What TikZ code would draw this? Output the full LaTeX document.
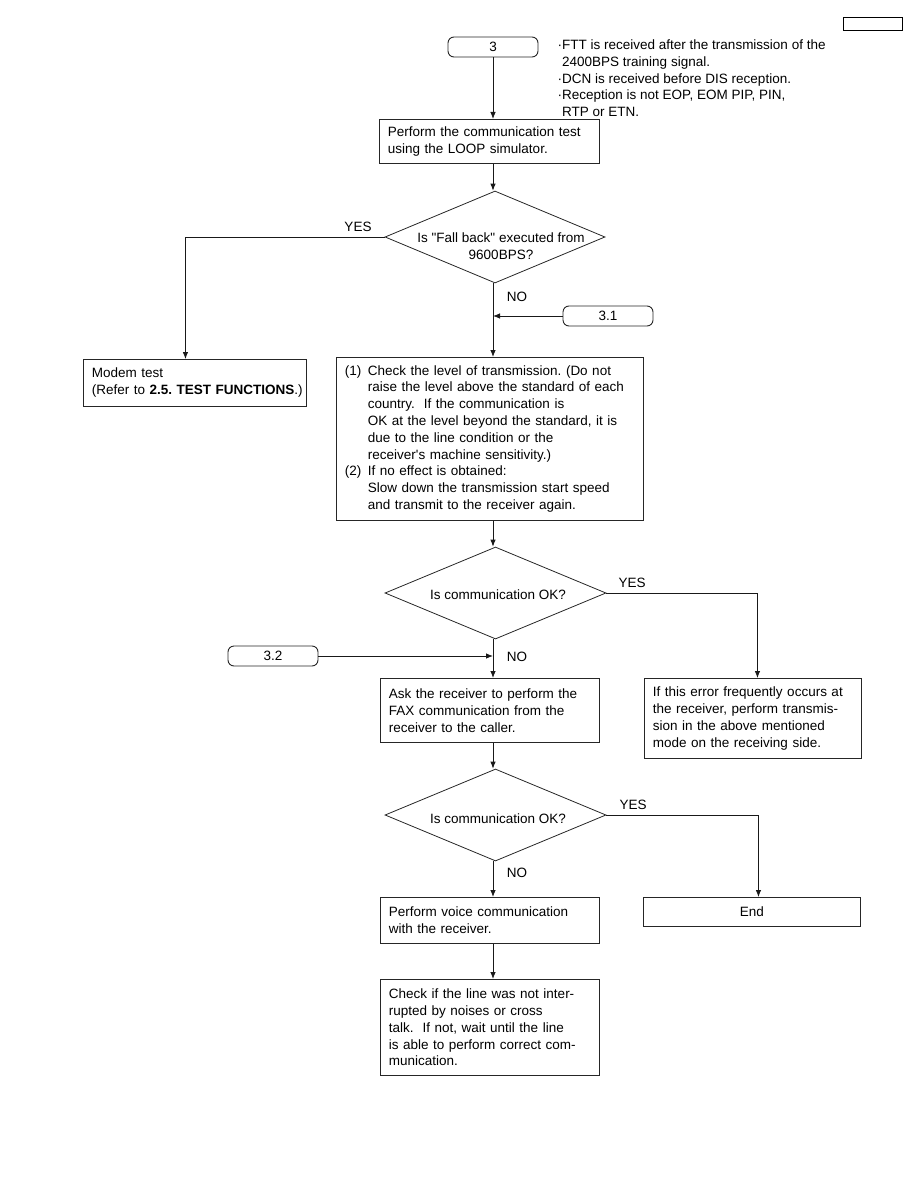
\documentclass[tikz,border=0pt]{standalone}
\usepackage{fontspec}
\setmainfont{Liberation Sans}[Ligatures=TeXOff]
\usetikzlibrary{shapes.geometric,arrows.meta}
\frenchspacing
\begin{document}
\begin{tikzpicture}[x=1pt,y=-1pt,
  every node/.style={font=\fontsize{13.5}{16.8}\selectfont\frenchspacing, text=black},
  box/.style={draw=black!85, line width=0.9pt, anchor=north west, inner xsep=8.5pt, inner ysep=0pt, align=left},
  term/.style={draw=black!85, line width=0.9pt, rounded corners=6pt, minimum width=90pt, minimum height=20pt, inner sep=0pt},
  dia/.style={draw=black!85, line width=0.8pt, shape=diamond, inner sep=0pt},
  lbl/.style={inner sep=0pt},
  arr/.style={draw=black!90, line width=0.8pt, -{Latex[length=7pt,width=5.5pt]}},
  ln/.style={draw=black!90, line width=0.8pt}
]
\useasboundingbox (0,0) rectangle (918,1188);

% header box (cut off)
\node[draw=black, line width=0.9pt, minimum width=59pt, minimum height=13pt, inner sep=0pt, anchor=north west] (hdr) at (843,17) {};

% start terminal
\node[term] (t3) at (493,47) {3};

% notes
\node[lbl, anchor=north west] (note) at (557.5,37.5) {%
\begin{tabular}{@{}p{4.5pt}@{}l@{}}
·&FTT is received after the transmission of the\\
 & 2400BPS training signal.\\
·&DCN is received before DIS reception.\\
·&Reception is not EOP, EOM PIP, PIN,\\
 & RTP or ETN.
\end{tabular}};

% box 1
\node[box, text width=203pt, minimum height=44pt] (b1) at (379,119)
 {Perform the communication test\\using the LOOP simulator.};

% diamond 1
\node[dia, minimum width=220pt, minimum height=92pt] (d1) at (495,237) {};
\node[lbl, align=center] (d1t) at (501,246) {Is "Fall back" executed from\\9600BPS?};

% modem
\node[box, text width=206pt, minimum height=47pt] (modem) at (83,359)
 {\begin{tabular}{@{}l@{}}Modem test\\(Refer to \textbf{2.5. TEST FUNCTIONS}.)\end{tabular}};

% 3.1 terminal
\node[term] (t31) at (608,316) {3.1};

% big box
\node[box, text width=290pt, minimum height=163pt] (big) at (336,357)
 {\begin{tabular}{@{}p{23pt}@{}l@{}}
 (1) & Check the level of transmission. (Do not\\
      & raise the level above the standard of each\\
      & country.\ \ If the communication is\\
      & OK at the level beyond the standard, it is\\
      & due to the line condition or the\\
      & receiver's machine sensitivity.)\\
 (2) & If no effect is obtained:\\
      & Slow down the transmission start speed\\
      & and transmit to the receiver again.
 \end{tabular}};

% diamond 2
\node[dia, minimum width=221pt, minimum height=92pt] (d2) at (495.5,593) {};
\node[lbl] (d2t) at (498,595) {Is communication OK?};

% 3.2 terminal
\node[term] (t32) at (273,656) {3.2};

% ask box
\node[box, text width=202pt, minimum height=64pt] (ask) at (380,678)
 {Ask the receiver to perform the\\FAX communication from the\\receiver to the caller.};

% error box
\node[box, text width=200pt, minimum height=80pt] (err) at (644,678)
 {If this error frequently occurs at\\the receiver, perform transmis-\\sion in the above mentioned\\mode on the receiving side.};

% diamond 3
\node[dia, minimum width=221pt, minimum height=92pt] (d3) at (495.5,815) {};
\node[lbl] (d3t) at (498,819) {Is communication OK?};

% end box
\node[draw=black!85, line width=0.9pt, anchor=north west, minimum width=217pt, minimum height=29pt, inner sep=0pt] (end) at (643,897) {End};

% voice box
\node[box, text width=202pt, minimum height=46pt] (voice) at (380,897)
 {Perform voice communication\\with the receiver.};

% last box
\node[box, text width=202pt, minimum height=96pt] (last) at (380,979)
 {Check if the line was not inter-\\rupted by noises or cross\\talk.\ \ If not, wait until the line\\is able to perform correct com-\\munication.};

% labels
\node[lbl] (yes1) at (358,227) {YES};
\node[lbl] (no1) at (517,297) {NO};
\node[lbl] (yes2) at (632,583) {YES};
\node[lbl] (no2) at (517,657) {NO};
\node[lbl] (yes3) at (633,805) {YES};
\node[lbl] (no3) at (517,873) {NO};

% connectors
\coordinate (cx) at (493,0);
\draw[arr] (t3.south) -- (t3.south |- b1.north);
\draw[arr] (t3.south |- b1.south) -- (t3.south |- d1.north);
\draw[arr] (d1.west) -| ([xshift=-9.5pt]modem.north);
\draw[arr] (cx |- d1.south) -- (cx |- big.north);
\draw[arr] (t31.west) -- (t31.west -| cx);
\draw[arr] (cx |- big.south) -- (cx |- d2.north);
\draw[arr] (d2.east) -| ([xshift=4.5pt]err.north);
\draw[arr] (cx |- d2.south) -- (cx |- ask.north);
\draw[arr] (t32.east) -- (t32.east -| cx);
\draw[arr] (cx |- ask.south) -- (cx |- d3.north);
\draw[arr] (d3.east) -| ([xshift=6.5pt]end.north);
\draw[arr] (cx |- d3.south) -- (cx |- voice.north);
\draw[arr] (cx |- voice.south) -- (cx |- last.north);
\end{tikzpicture}
\end{document}
